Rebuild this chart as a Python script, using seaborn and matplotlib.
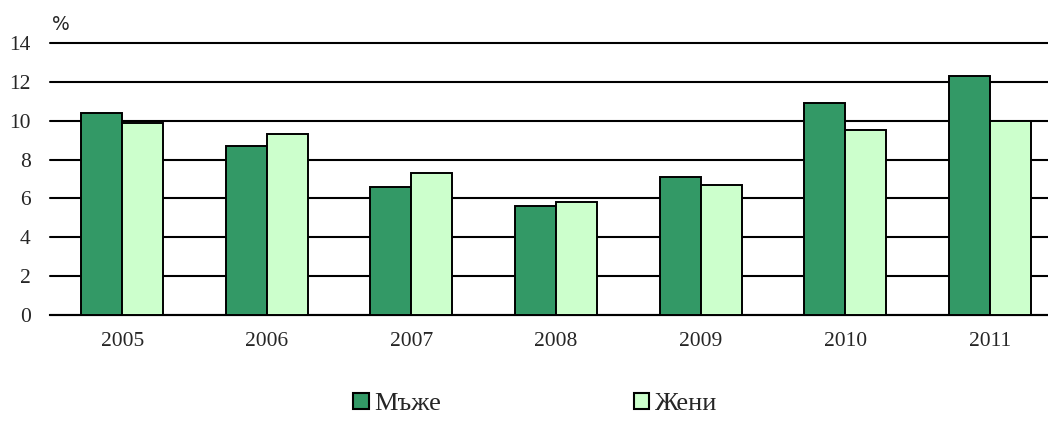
import matplotlib
matplotlib.use("Agg")
import matplotlib.pyplot as plt
import seaborn as sns
import pandas as pd
from matplotlib.patches import Patch
from matplotlib.ticker import FixedLocator

years = ["2005", "2006", "2007", "2008", "2009", "2010", "2011"]
men = [10.4, 8.7, 6.6, 5.6, 7.1, 10.9, 12.3]
women = [9.9, 9.3, 7.3, 5.8, 6.7, 9.5, 10.0]
series_names = ["Мъже", "Жени"]
yticks = [0, 2, 4, 6, 8, 10, 12, 14]
colors = ["#339966", "#CCFFCC"]

df = pd.DataFrame({
    "year": years * 2,
    "value": men + women,
    "sex": [series_names[0]] * len(years) + [series_names[1]] * len(years),
})

sns.set_style("white")
plt.rcParams["font.family"] = ["Liberation Serif", "DejaVu Serif"]

fig = plt.figure(figsize=(10.48, 4.23), dpi=100)
ax = fig.add_axes([50 / 1048, 108 / 423, 1012 / 1048, 272 / 423])

sns.barplot(data=df, x="year", y="value", hue="sex", palette=colors,
            saturation=1, width=0.567, edgecolor="black", linewidth=1.4, ax=ax,
            legend=False, zorder=3)

ax.set_ylim(0, 14)
ax.set_xlim(-0.5, len(years) - 0.5)
ax.set_yticks(yticks)
ax.set_yticklabels([str(v) for v in yticks], fontsize=15.5)
ax.yaxis.grid(True, color="black", linewidth=1.5)
for gl in ax.get_ygridlines():
    gl.set_clip_on(False)
ax.set_axisbelow(True)
ax.tick_params(axis="y", length=0, pad=14)
ax.tick_params(axis="x", which="major", length=0, labelsize=15.5, pad=12)
ax.xaxis.set_minor_locator(FixedLocator([i - 0.5 for i in range(len(years) + 1)]))
ax.tick_params(axis="x", which="minor", length=8, width=1.5, color="black", direction="out")
ax.set_xlabel("")
ax.set_ylabel("")
for s in ["left", "right", "top"]:
    ax.spines[s].set_visible(False)
ax.spines["bottom"].set_color("black")
ax.spines["bottom"].set_linewidth(1.5)

fig.text(52 / 1048, 1 - 25 / 423, "%", fontsize=13.5, family="DejaVu Sans", va="center", ha="left")

handles = [Patch(facecolor=c, edgecolor="black", linewidth=1.5) for c in colors]
fig.legend(handles, series_names, loc="center", bbox_to_anchor=(535 / 1048, 1 - 404 / 423),
           ncol=2, frameon=False, fontsize=19, handlelength=0.6, handleheight=0.6,
           handletextpad=0.2, columnspacing=7.3)

fig.savefig("out.png", dpi=100)
